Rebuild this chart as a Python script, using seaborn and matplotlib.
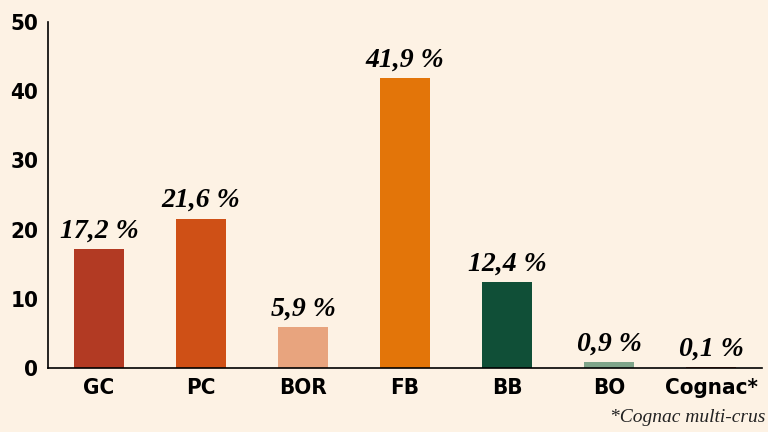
import matplotlib
matplotlib.use('Agg')
import matplotlib.pyplot as plt
import seaborn as sns
import pandas as pd

# data
categories = ['GC', 'PC', 'BOR', 'FB', 'BB', 'BO', 'Cognac*']
shares = [17.2, 21.6, 5.9, 41.9, 12.4, 0.9, 0.1]
labels = ['17,2 %', '21,6 %', '5,9 %', '41,9 %', '12,4 %', '0,9 %', '0,1 %']
colors = ['#B23A23', '#CF5016', '#E8A47E', '#E37509', '#104F37', '#7FA58A', '#B34A2E']

bg = '#FDF2E4'
sns.set_style('white')
plt.rcParams['font.family'] = ['DejaVu Sans']
plt.rcParams['font.stretch'] = 'condensed'
plt.rcParams['text.color'] = 'black'
plt.rcParams['xtick.color'] = 'black'
plt.rcParams['ytick.color'] = 'black'

df = pd.DataFrame({'cat': categories, 'share': shares})

fig = plt.figure(figsize=(7.68, 4.32), dpi=100, facecolor=bg)
ax = fig.add_axes([0.0625, 0.148, 0.93, 0.801])
ax.set_facecolor(bg)

sns.barplot(data=df, x='cat', y='share', hue='cat', palette=colors,
            width=0.49, legend=False, ax=ax, saturation=1, linewidth=0)

for i, (v, t) in enumerate(zip(shares, labels)):
    ax.text(i, v + 0.8, t, ha='center', va='bottom', fontsize=20, color='black',
            family='Liberation Serif', fontweight='bold', style='italic')

ax.set_xlim(-0.5, 6.5)
ax.set_ylim(0, 50)
ax.set_yticks([0, 10, 20, 30, 40, 50])
ax.set_xlabel('')
ax.set_ylabel('')
ax.tick_params(axis='both', length=0, labelsize=16, pad=7)
for lab in ax.get_xticklabels() + ax.get_yticklabels():
    lab.set_fontweight('bold')

for s in ['top', 'right']:
    ax.spines[s].set_visible(False)
for s in ['left', 'bottom']:
    ax.spines[s].set_color('black')
    ax.spines[s].set_linewidth(1.2)

fig.text(0.996, 0.022, '*Cognac multi-crus', ha='right', va='baseline',
         fontsize=14, color='#222222', family='Liberation Serif', style='italic')

fig.savefig('out.png', dpi=100, facecolor=bg)
